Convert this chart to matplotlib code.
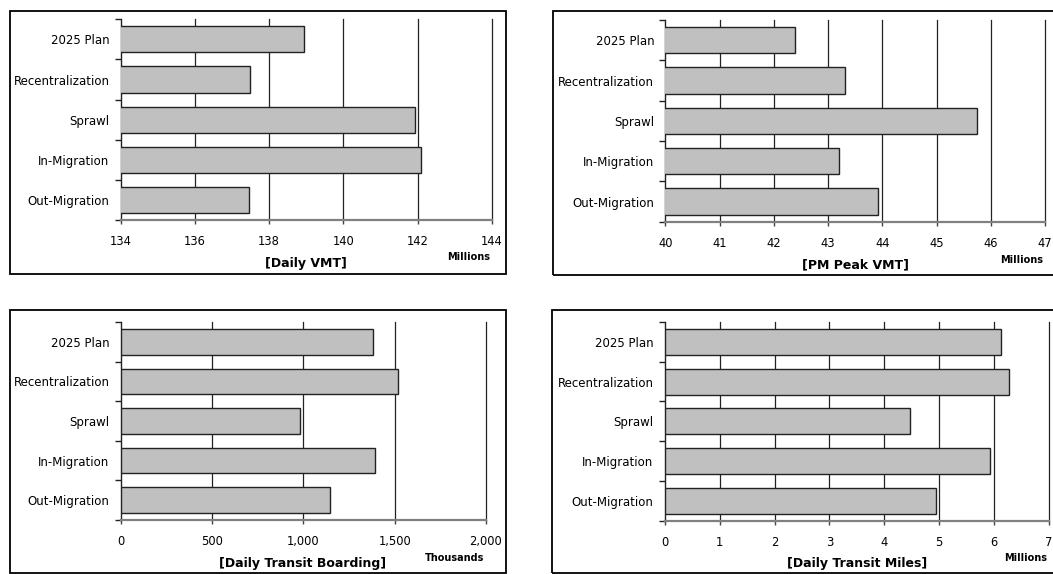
"""
Four scenario comparison bar charts (VMT and transit).
"""

import matplotlib.pyplot as plt
from matplotlib.patches import Rectangle
from matplotlib.ticker import FuncFormatter
import numpy as np

W, H = 1053, 574

scenarios = ["2025 Plan", "Recentralization", "Sprawl", "In-Migration", "Out-Migration"]

daily_vmt = [138.95, 137.49, 141.92, 142.10, 137.45]
pm_peak_vmt = [42.40, 43.31, 45.75, 43.20, 43.92]
transit_boarding = [1379, 1516, 982, 1394, 1146]
transit_miles = [6.12, 6.27, 4.47, 5.92, 4.94]

vmt_ticks = [134, 136, 138, 140, 142, 144]
pm_ticks = [40, 41, 42, 43, 44, 45, 46, 47]
boarding_ticks = [0, 500, 1000, 1500, 2000]
miles_ticks = [0, 1, 2, 3, 4, 5, 6, 7]


def fx(x):
    return x / W


def fy(y):
    return 1 - y / H


def panel(fig, box, plot, values, ticks, title, unit, title_xy, unit_xy):
    # outer frame
    x0, y0, x1, y1 = box
    fig.patches.append(Rectangle((fx(x0), fy(y1)), fx(x1 - x0), (y1 - y0) / H,
                                 transform=fig.transFigure, fill=False,
                                 edgecolor='black', linewidth=1.3))
    l, t, r, b = plot
    ax = fig.add_axes([fx(l), fy(b), fx(r - l), (b - t) / H])
    y = np.arange(len(scenarios))
    ax.barh(y, values, height=0.65, left=0, color='#c0c0c0',
            edgecolor='#222222', linewidth=1.0, zorder=3)
    ax.set_xlim(ticks[0], ticks[-1])
    ax.set_ylim(len(scenarios) - 0.5, -0.5)

    for v in ticks[1:]:
        ax.axvline(v, color='#222222', linewidth=0.9, zorder=1, clip_on=False)

    ax.set_xticks(ticks)
    ax.xaxis.set_major_formatter(FuncFormatter(lambda v, p: f"{v:,.0f}"))
    ax.tick_params(axis='x', length=3, width=1, pad=8, labelsize=8.3, color='#444444')

    ax.set_yticks(y)
    ax.set_yticklabels(scenarios, fontsize=8.5)
    ax.set_yticks(np.arange(-0.5, len(scenarios)), minor=True)
    ax.tick_params(axis='y', which='major', length=0, pad=8)
    ax.tick_params(axis='y', which='minor', length=4, width=1, color='#222222')

    for s in ['top', 'right']:
        ax.spines[s].set_visible(False)
    ax.spines['left'].set_color('#222222')
    ax.spines['left'].set_linewidth(1.0)
    ax.spines['bottom'].set_color('#808080')
    ax.spines['bottom'].set_linewidth(1.6)
    ax.spines['bottom'].set_zorder(4)
    ax.set_facecolor('none')

    fig.text(fx(title_xy[0]), fy(title_xy[1]), title, ha='center', va='center',
             fontsize=9, fontweight='bold')
    fig.text(fx(unit_xy[0]), fy(unit_xy[1]), unit, ha='center', va='center',
             fontsize=7, fontweight='bold')
    return ax


fig = plt.figure(figsize=(W / 100, H / 100), dpi=100)

panel(fig, (10, 11, 506, 274), (120.7, 19.3, 491.7, 220), daily_vmt, vmt_ticks,
      "[Daily VMT]", "Millions", (306, 263), (469, 257))
panel(fig, (552.7, 11, 1062, 275), (665.3, 20, 1045, 221.7), pm_peak_vmt, pm_ticks,
      "[PM Peak VMT]", "Millions", (855, 265), (1022, 260))
panel(fig, (10, 310, 506, 573), (120.7, 322, 486, 520), transit_boarding, boarding_ticks,
      "[Daily Transit Boarding]", "Thousands", (303, 563), (455, 558))
panel(fig, (551.7, 310, 1062, 573), (664.7, 322, 1049, 520.7), transit_miles, miles_ticks,
      "[Daily Transit Miles]", "Millions", (857, 563), (1026, 558))

plt.savefig("out.png", dpi=100)
plt.close()
